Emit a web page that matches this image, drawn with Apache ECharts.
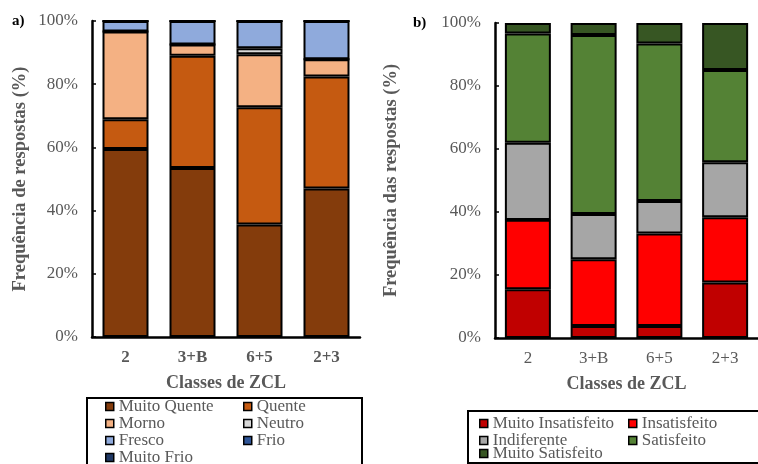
<!DOCTYPE html>
<html>
<head>
<meta charset="utf-8">
<script src="https://cdn.jsdelivr.net/npm/echarts@6/dist/echarts.min.js"></script>
<style>
  html, body { margin: 0; padding: 0; background: #fff; }
  #chart { width: 758px; height: 464px; }
</style>
</head>
<body>
<div id="chart"></div>
<script>
// Classes de ZCL (categories shared by both panels)
const categories = ['2', '3+B', '6+5', '2+3'];
const yTicks = [0, 20, 40, 60, 80, 100];

// a) Sensação térmica (% das respostas)
const muitoQuente = [59.5, 53.5, 35.6, 47.0];
const quente      = [9.4, 35.5, 37.1, 35.4];
const morno       = [27.8, 3.6, 16.8, 5.5];
const neutro      = [0, 0, 1.9, 0];
const fresco      = [3.3, 7.4, 8.6, 12.1];
const frio        = [0, 0, 0, 0];
const muitoFrio   = [0, 0, 0, 0];

// b) Satisfação (% das respostas)
const muitoInsatisfeito = [15.5, 3.8, 3.8, 17.6];
const insatisfeito      = [22.0, 21.2, 29.4, 20.7];
const indiferente       = [24.5, 14.4, 10.3, 17.5];
const satisfeito        = [34.7, 56.8, 50.0, 29.3];
const muitoSatisfeito   = [3.3, 3.8, 6.5, 14.9];

const serif = 'Liberation Serif';
const grey = '#595959';

const panelA = [
  ['Muito Quente', muitoQuente, '#843c0c'],
  ['Quente', quente, '#c55a11'],
  ['Morno', morno, '#f4b183'],
  ['Neutro', neutro, '#d9d9d9'],
  ['Fresco', fresco, '#8faadc'],
  ['Frio', frio, '#2f5597'],
  ['Muito Frio', muitoFrio, '#203864']
];
const panelB = [
  ['Muito Insatisfeito', muitoInsatisfeito, '#c00000'],
  ['Insatisfeito', insatisfeito, '#ff0000'],
  ['Indiferente', indiferente, '#a6a6a6'],
  ['Satisfeito', satisfeito, '#548235'],
  ['Muito Satisfeito', muitoSatisfeito, '#375623']
];

function makeSeries(list, idx, stack) {
  return list.map(([name, data, color]) => ({
    name, type: 'bar', stack, data,
    xAxisIndex: idx, yAxisIndex: idx,
    barWidth: 46,
    itemStyle: { color, borderColor: '#000', borderWidth: 2 },
    emphasis: { disabled: true }
  }));
}

function xAxis(idx, boldLabels) {
  return {
    type: 'category', gridIndex: idx, data: categories,
    name: 'Classes de ZCL', nameLocation: 'middle', nameGap: 37,
    nameTextStyle: { fontFamily: serif, fontSize: 18, fontWeight: 'bold', color: grey },
    axisLine: { lineStyle: { color: '#000', width: 2.5 } },
    axisTick: { alignWithLabel: true, length: 4, lineStyle: { color: '#000', width: 1.5 } },
    axisLabel: { fontFamily: serif, fontSize: 17, color: grey, margin: 12,
                 fontWeight: boldLabels ? 'bold' : 'normal' }
  };
}

function yAxis(idx, title, gap) {
  return {
    type: 'value', gridIndex: idx, min: yTicks[0], max: yTicks[yTicks.length - 1], interval: 20,
    name: title, nameLocation: 'middle', nameGap: gap, nameRotate: 90,
    nameTextStyle: { fontFamily: serif, fontSize: 18.5, fontWeight: 'bold', color: grey },
    axisLine: { show: true, lineStyle: { color: '#000', width: 2.5 } },
    axisTick: { show: true, inside: true, length: 4, lineStyle: { color: '#000', width: 1.5 } },
    axisLabel: { fontFamily: serif, fontSize: 17, color: grey, margin: 14, formatter: '{value}%' },
    splitLine: { show: false }
  };
}

function legendColumn(names, left, top, lineH) {
  return {
    data: names, orient: 'vertical', left, top, padding: 0, itemGap: 0,
    itemWidth: 8, itemHeight: 8, icon: 'rect', selectedMode: false,
    itemStyle: { borderColor: '#000', borderWidth: 1.5 },
    textStyle: { fontFamily: serif, fontSize: 17, color: grey, lineHeight: lineH, padding: 0 }
  };
}

const chart = echarts.init(document.getElementById('chart'), null, { renderer: 'canvas' });
chart.setOption({
  animation: false,
  backgroundColor: '#fff',
  grid: [
    { left: 92, top: 21, width: 268, height: 316 },
    { left: 495, top: 23, width: 267, height: 315 }
  ],
  xAxis: [xAxis(0, true), xAxis(1, false)],
  yAxis: [yAxis(0, 'Frequência de respostas (%)', 62), yAxis(1, 'Frequência das respostas (%)', 94)],
  legend: [
    legendColumn(['Muito Quente', 'Morno', 'Fresco'], 105, 398, 17),
    legendColumn(['Muito Frio'], 105, 449, 17),
    legendColumn(['Quente', 'Neutro', 'Frio'], 243, 398, 17),
    legendColumn(['Muito Insatisfeito', 'Indiferente'], 479, 415, 15),
    legendColumn(['Muito Satisfeito'], 479, 445, 15),
    legendColumn(['Insatisfeito', 'Satisfeito'], 628, 415, 15)
  ],
  graphic: [
    { type: 'rect', left: 86, top: 397, shape: { width: 275, height: 80 },
      style: { fill: 'transparent', stroke: '#000', lineWidth: 2 }, z: 10 },
    { type: 'rect', left: 467, top: 410, shape: { width: 300, height: 52 },
      style: { fill: 'transparent', stroke: '#000', lineWidth: 2 }, z: 10 },
    { type: 'text', left: 12, top: 14,
      style: { text: 'a)', font: 'bold 15px "Liberation Serif"', fill: '#000' } },
    { type: 'text', left: 413, top: 16,
      style: { text: 'b)', font: 'bold 15px "Liberation Serif"', fill: '#000' } }
  ],
  series: [...makeSeries(panelA, 0, 'a'), ...makeSeries(panelB, 1, 'b')]
});
</script>
</body>
</html>
